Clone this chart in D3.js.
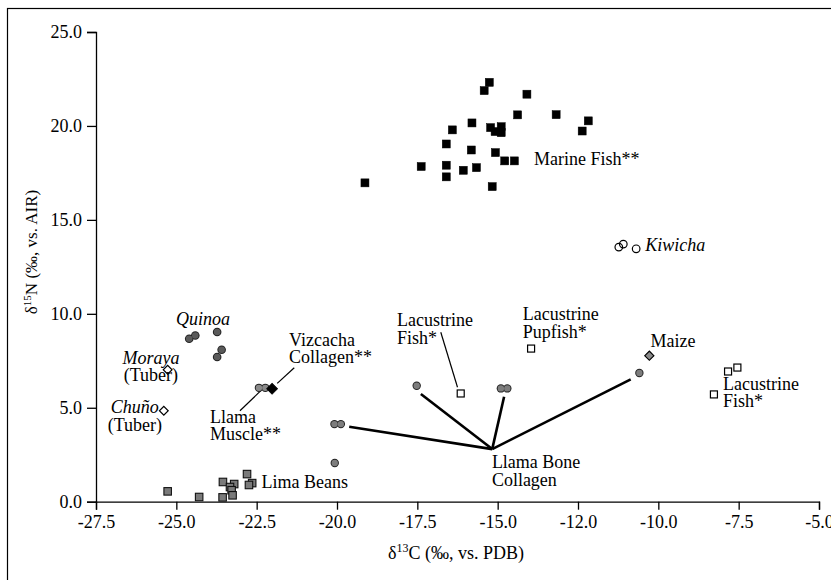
<!DOCTYPE html>
<html>
<head>
<meta charset="utf-8">
<script src="https://cdn.jsdelivr.net/npm/d3@7"></script>
<style>
    body { margin: 0; background: #fff; }
    text { font-family: "Liberation Serif", "Times New Roman", serif; fill: #000; }
</style>
</head>
<body>
<div id="isotope-plot"></div>
<script>
// d13C, d15N values
var marineFish = [[-15.26, 22.32], [-15.42, 21.88], [-14.09, 21.69], [-14.38, 20.59], [-13.18, 20.60],
    [-12.18, 20.27], [-12.37, 19.73], [-15.80, 20.16], [-16.41, 19.79], [-15.22, 19.91], [-14.89, 19.96],
    [-15.08, 19.70], [-14.89, 19.64], [-16.60, 19.04], [-15.82, 18.72], [-15.07, 18.58], [-14.78, 18.14],
    [-14.48, 18.14], [-17.38, 17.84], [-16.60, 17.91], [-16.07, 17.64], [-15.66, 17.78], [-16.60, 17.29],
    [-15.17, 16.77], [-19.13, 16.97]];
var kiwicha = [[-11.23, 13.55], [-11.09, 13.71], [-10.69, 13.46]];
var quinoa = [[-24.60, 8.67], [-24.41, 8.85], [-23.73, 9.03], [-23.59, 8.09], [-23.73, 7.70]];
var tubers = [[-25.27, 7.02], [-25.39, 4.84]];
var limaBeans = [[-25.27, 0.55], [-24.29, 0.25], [-23.56, 0.23], [-23.55, 1.05], [-23.20, 0.94],
    [-23.33, 0.78], [-23.28, 0.61], [-23.25, 0.34], [-22.80, 1.47], [-22.64, 0.99], [-22.74, 0.89]];
var llamaBone = [[-17.52, 6.17], [-14.90, 6.03], [-14.70, 6.03], [-20.08, 4.13], [-19.88, 4.13],
    [-20.07, 2.06], [-10.59, 6.85]];
var llamaMuscle = [[-22.43, 6.06], [-22.23, 6.06]];
var vizcacha = [[-22.02, 6.01]];
var maize = [[-10.28, 7.77]];
var lacustrineFish = [[-7.83, 6.93], [-7.54, 7.14], [-8.27, 5.71], [-16.15, 5.76]];
var lacustrinePupfish = [[-13.96, 8.15]];

var xTicks = [-27.5, -25, -22.5, -20, -17.5, -15, -12.5, -10, -7.5, -5];
var xTickLabels = ["-27.5", "-25.0", "-22.5", "-20.0", "-17.5", "-15.0", "-12.0", "-10.0", "-7.5", "-5.0"];
var yTicks = [0, 5, 10, 15, 20, 25];

// labels, in data units
var labels = [
    { lines: ["Marine Fish**"], at: [-13.87, 17.92], anchor: "start" },
    { lines: ["Kiwicha"], at: [-10.41, 13.34], anchor: "start", italic: true },
    { lines: ["Quinoa"], at: [-24.17, 9.40], anchor: "middle", italic: true },
    { lines: ["Moraya", "(Tuber)"], at: [-25.79, 7.33], anchor: "middle", italic: [true, false] },
    { lines: ["Chuño", "(Tuber)"], at: [-26.29, 4.72], anchor: "middle", italic: [true, false] },
    { lines: ["Vizcacha", "Collagen**"], at: [-21.49, 8.29], anchor: "start" },
    { lines: ["Llama", "Muscle**"], at: [-23.95, 4.19], anchor: "start" },
    { lines: ["Lacustrine", "Fish*"], at: [-18.13, 9.35], anchor: "start" },
    { lines: ["Lacustrine", "Pupfish*"], at: [-14.22, 9.67], anchor: "start" },
    { lines: ["Maize"], at: [-9.54, 8.23], anchor: "middle" },
    { lines: ["Lacustrine", "Fish*"], at: [-7.99, 5.95], anchor: "start" },
    { lines: ["Lima Beans"], at: [-22.35, 0.73], anchor: "start" },
    { lines: ["Llama Bone", "Collagen"], at: [-15.18, 1.79], anchor: "start" }
];

var boneHub = [-15.17, 2.80];
var boneLeaders = [[-17.39, 5.73], [-14.80, 5.59], [-19.62, 3.99], [-10.86, 6.51]];
var thinLeaders = [
    [[-23.02, 4.84], [-22.37, 5.91]],
    [[-21.86, 6.30], [-21.33, 7.13]],
    [[-16.77, 9.02], [-16.25, 6.09]]
];

function generateIsotopePlot() {
    let svg = d3.select("#isotope-plot")
        .append("svg")
        .attr("width", 831)
        .attr("height", 580);

    // outer frame, only top and left edges are in view
    svg.append("rect")
        .attr("x", 7.5).attr("y", 8.5)
        .attr("width", 900).attr("height", 700)
        .attr("fill", "none")
        .attr("stroke", "#000")
        .attr("stroke-width", 1.2);

    var x = d3.scaleLinear().domain([-27.5, -5]).range([96, 819]);
    var y = d3.scaleLinear().domain([0, 25]).range([501.7, 32]);

    var xAxis = d3.axisBottom(x)
        .tickValues(xTicks)
        .tickFormat((d, i) => xTickLabels[i])
        .tickSizeOuter(0)
        .tickSize(8)
        .tickPadding(6);

    var yAxis = d3.axisLeft(y)
        .tickValues(yTicks)
        .tickFormat(d3.format(".1f"))
        .tickSizeOuter(0)
        .tickSize(9)
        .tickPadding(5);

    let gx = svg.append("g")
        .attr("transform", "translate(0," + y(0) + ")")
        .call(xAxis);
    let gy = svg.append("g")
        .attr("transform", "translate(" + x(-27.5) + ",0)")
        .call(yAxis);

    [gx, gy].forEach(g => {
        g.selectAll("path, line").attr("stroke", "#000").attr("stroke-width", 1.3);
        g.selectAll("text")
            .style("font-family", "'Liberation Serif', serif")
            .style("font-size", "18px")
            .attr("fill", "#000");
    });

    // axis titles
    let xt = svg.append("text")
        .attr("x", 456).attr("y", 559)
        .attr("text-anchor", "middle")
        .style("font-size", "18px");
    xt.append("tspan").text("δ");
    xt.append("tspan").attr("dy", -7).style("font-size", "12px").text("13");
    xt.append("tspan").attr("dy", 7).text("C (‰, vs. PDB)");

    let yt = svg.append("text")
        .attr("transform", "translate(37,252) rotate(-90)")
        .attr("text-anchor", "middle")
        .style("font-size", "17px");
    yt.append("tspan").text("δ");
    yt.append("tspan").attr("dy", -6).style("font-size", "11px").text("15");
    yt.append("tspan").attr("dy", 6).text("N (‰, vs. AIR)");

    // leader lines
    let leaders = svg.append("g");
    leaders.selectAll(".bone-leader")
        .data(boneLeaders)
        .enter()
        .append("line")
        .attr("class", "bone-leader")
        .attr("x1", x(boneHub[0])).attr("y1", y(boneHub[1]))
        .attr("x2", d => x(d[0])).attr("y2", d => y(d[1]))
        .attr("stroke", "#000")
        .attr("stroke-width", 2.6);
    leaders.selectAll(".thin-leader")
        .data(thinLeaders)
        .enter()
        .append("line")
        .attr("class", "thin-leader")
        .attr("x1", d => x(d[0][0])).attr("y1", d => y(d[0][1]))
        .attr("x2", d => x(d[1][0])).attr("y2", d => y(d[1][1]))
        .attr("stroke", "#000")
        .attr("stroke-width", 1.2);

    let marks = svg.append("g");

    let squares = function (data, size, fill, stroke, sw) {
        marks.append("g")
            .selectAll("rect")
            .data(data)
            .enter()
            .append("rect")
            .attr("x", d => x(d[0]) - size / 2)
            .attr("y", d => y(d[1]) - size / 2)
            .attr("width", size)
            .attr("height", size)
            .attr("fill", fill)
            .attr("stroke", stroke)
            .attr("stroke-width", sw);
    }

    // filled circles: outline layer first, then fill, so touching dots merge into pills
    let dots = function (data, r, fill) {
        let g = marks.append("g");
        g.selectAll(".outline")
            .data(data)
            .enter()
            .append("circle")
            .attr("class", "outline")
            .attr("cx", d => x(d[0])).attr("cy", d => y(d[1]))
            .attr("r", r + 1)
            .attr("fill", "#222");
        g.selectAll(".inner")
            .data(data)
            .enter()
            .append("circle")
            .attr("class", "inner")
            .attr("cx", d => x(d[0])).attr("cy", d => y(d[1]))
            .attr("r", r)
            .attr("fill", fill);
    }

    let diamonds = function (data, size, fill, sw) {
        marks.append("g")
            .selectAll("path")
            .data(data)
            .enter()
            .append("path")
            .attr("d", d3.symbol().type(d3.symbolSquare).size(size * size))
            .attr("transform", d => "translate(" + x(d[0]) + "," + y(d[1]) + ") rotate(45)")
            .attr("fill", fill)
            .attr("stroke", "#000")
            .attr("stroke-width", sw);
    }

    squares(marineFish, 8, "#000", "#000", 0.5);
    squares(limaBeans, 7.5, "#7a7a7a", "#111", 1.1);
    squares(lacustrineFish, 7, "#fff", "#000", 1.2);
    squares(lacustrinePupfish, 7, "#fff", "#000", 1.2);

    dots(quinoa, 3.3, "#5a5a5a");
    dots(llamaBone, 3.2, "#7d7d7d");
    dots(llamaMuscle, 3.2, "#8a8a8a");

    marks.append("g")
        .selectAll("circle")
        .data(kiwicha)
        .enter()
        .append("circle")
        .attr("cx", d => x(d[0])).attr("cy", d => y(d[1]))
        .attr("r", 3.8)
        .attr("fill", "none")
        .attr("stroke", "#000")
        .attr("stroke-width", 1.2);

    diamonds(tubers, 6.2, "#fff", 1.2);
    diamonds(maize, 6.5, "#8a8a8a", 1.1);
    diamonds(vizcacha, 7.5, "#000", 1);

    // text labels
    let lg = svg.append("g");
    labels.forEach(l => {
        let t = lg.append("text")
            .attr("x", x(l.at[0]))
            .attr("y", y(l.at[1]))
            .attr("text-anchor", l.anchor)
            .style("font-size", "18px");
        l.lines.forEach((s, i) => {
            let it = Array.isArray(l.italic) ? l.italic[i] : l.italic;
            t.append("tspan")
                .attr("x", x(l.at[0]))
                .attr("dy", i == 0 ? 0 : 17.5)
                .style("font-style", it ? "italic" : "normal")
                .text(s);
        });
    });
}

generateIsotopePlot();
</script>
</body>
</html>
